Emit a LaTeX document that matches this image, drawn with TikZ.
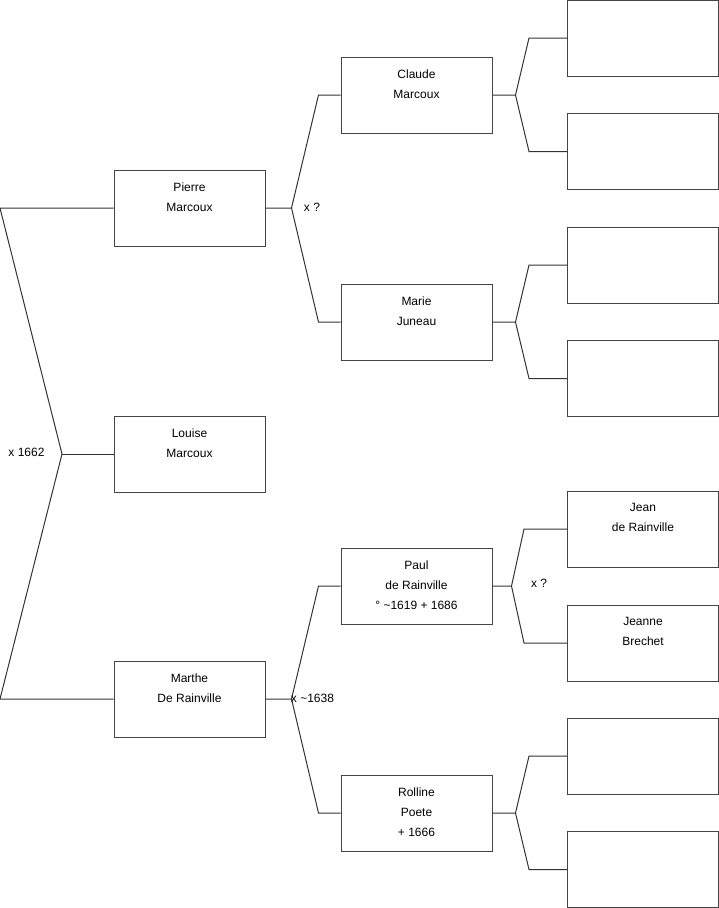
\documentclass[tikz,border=0pt]{standalone}
\usepackage{fontspec}
\setmainfont{Liberation Sans}
\usetikzlibrary{calc}
\definecolor{edge}{HTML}{333333}
\definecolor{frame}{HTML}{444444}

\begin{document}
\begin{tikzpicture}[x=1pt,y=-1pt,line join=miter,
  box/.style={draw=frame,line width=1pt,minimum width=151pt,minimum height=76pt,inner sep=0pt},
  txt/.style={font=\fontsize{12}{20}\selectfont,align=center,inner sep=0pt},
  who/.style={txt,anchor=north,yshift=-13pt},
  link/.style={draw=edge,line width=1pt}]
\useasboundingbox (0,0) rectangle (719,908);
% child and parents
\node[box,label={[who]north:Pierre\\Marcoux}] (pierre) at (189.5,208) {};
\node[box,label={[who]north:Louise\\Marcoux}] (louise) at (189.5,454) {};
\node[box,label={[who]north:Marthe\\De Rainville}] (marthe) at (189.5,699) {};
% grandparents
\node[box,label={[who]north:Claude\\Marcoux}] (claude) at (416.5,95) {};
\node[box,label={[who]north:Marie\\Juneau}] (marie) at (416.5,322) {};
\node[box,label={[who]north:Paul\\de Rainville\\° \textasciitilde1619 + 1686}] (paul) at (416.5,586) {};
\node[box,label={[who]north:Rolline\\Poete\\+ 1666}] (rolline) at (416.5,813) {};
% great-grandparents
\foreach \n/\y in {gp1/38,gp2/151.5,gp3/265,gp4/378.5,gp7/756,gp8/869.5}{\node[box] (\n) at (643,\y) {};}
\node[box,label={[who]north:Jean\\de Rainville}] (jean) at (643,529) {};
\node[box,label={[who]north:Jeanne\\Brechet}] (jeanne) at (643,643) {};
% brackets
\coordinate (top) at (0,208);
\coordinate (mid) at (62,454);
\coordinate (bot) at (0,699);
\draw[link] (pierre.west) -- (top) -- (mid) -- (bot) -- (marthe.west);
\draw[link] (mid) -- (louise.west);
\foreach \c/\f/\m/\s/\h in {pierre/claude/marie/26/22,marthe/paul/rolline/26/22,claude/gp1/gp2/23/38,marie/gp3/gp4/23/38,paul/jean/jeanne/19/43,rolline/gp7/gp8/23/38}{
  \draw[link] (\c.east) -- ++(\s,0) coordinate (\c-j) -- ($(\f.west)+(-\h,0)$) -- (\f.west);
  \draw[link] (\c-j) -- ($(\m.west)+(-\h,0)$) -- (\m.west);}
% marriages
\node[txt] (w1662) at (26.5,452) {x 1662};
\node[txt] (wpierre) at (312,207) {x ?};
\node[txt] (w1638) at (312.5,698) {x \textasciitilde1638};
\node[txt] (wpaul) at (539,583) {x ?};
\end{tikzpicture}
\end{document}
